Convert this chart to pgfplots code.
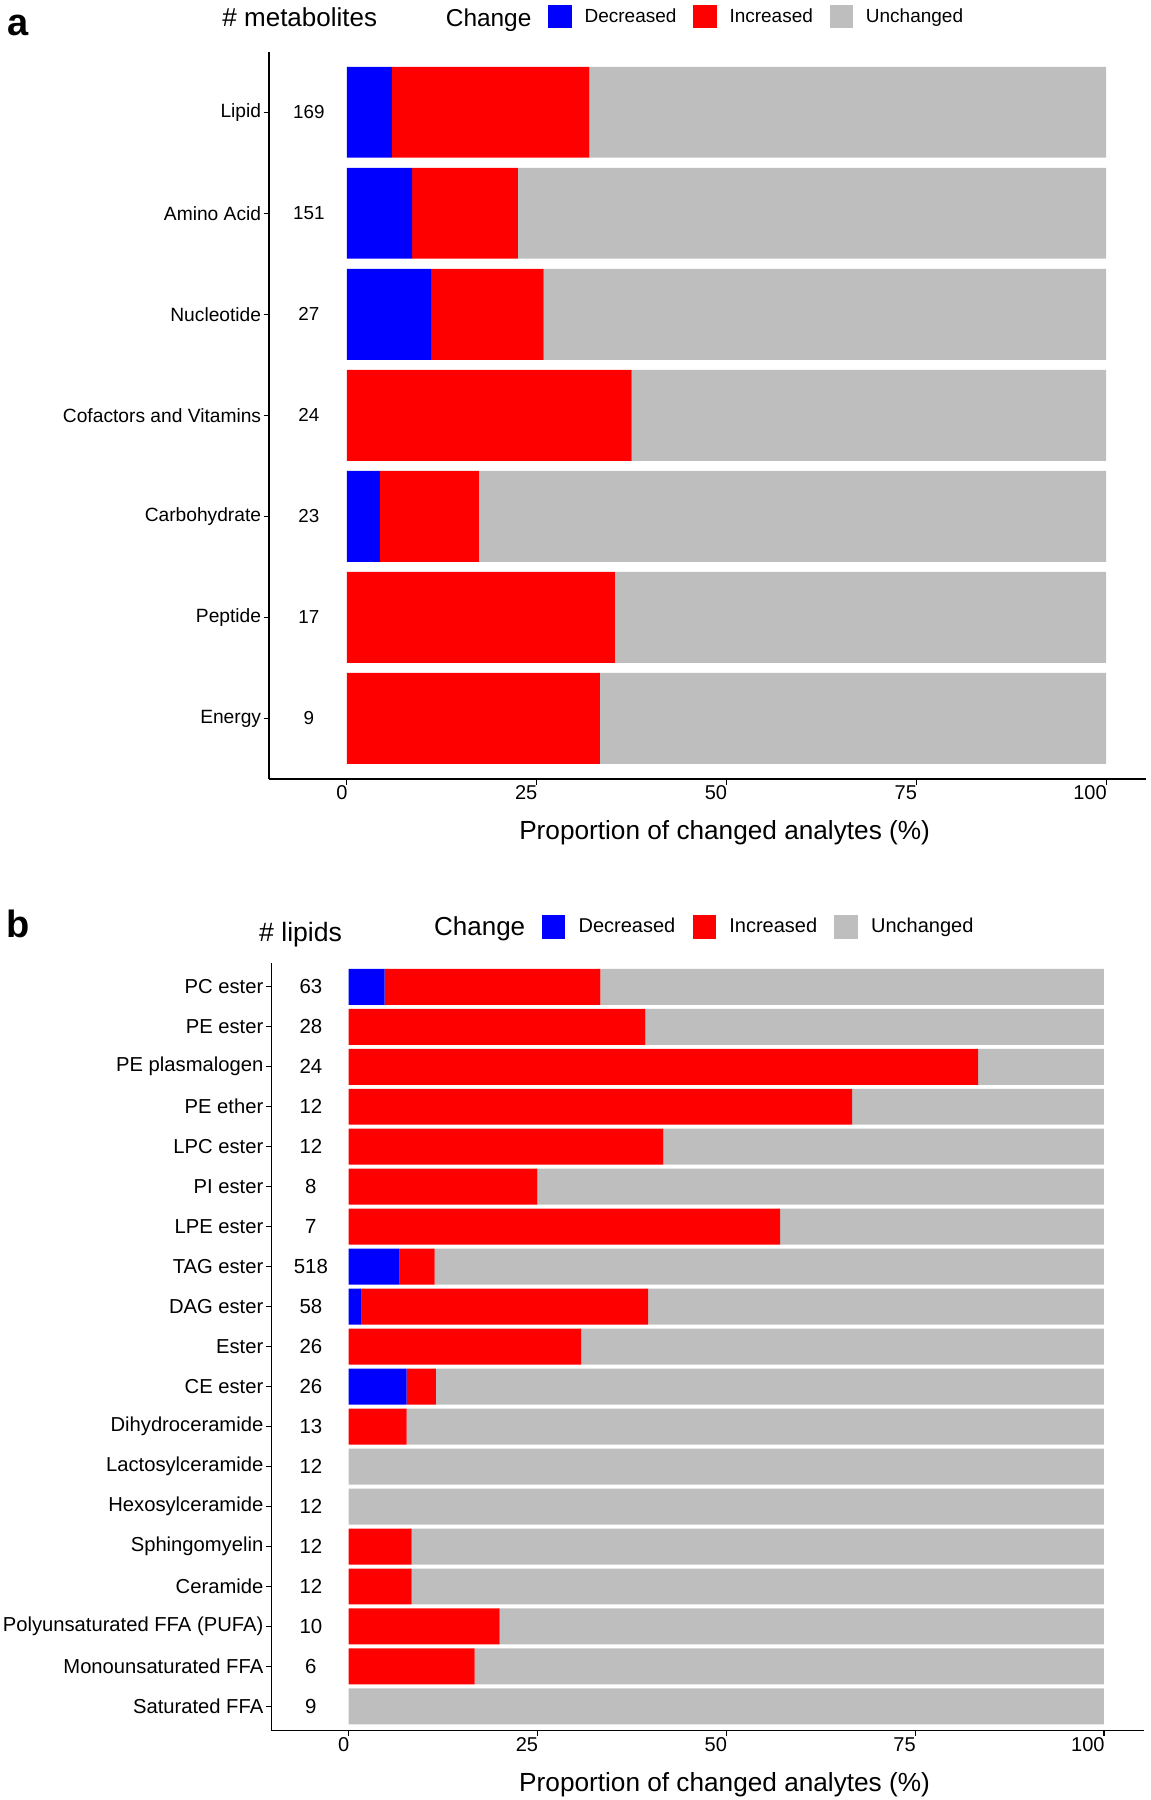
\documentclass[border=0pt]{standalone}
\usepackage{fontspec}
\setmainfont{Liberation Sans}
\usepackage{pgfplots}
\pgfplotsset{compat=1.18}
\usepackage{pgfplotstable}

\definecolor{dec}{HTML}{0000FF}
\definecolor{inc}{HTML}{FF0000}
\definecolor{unc}{HTML}{BEBEBE}

\pgfplotstableread{
y lx n dec inc unch
7 -5 169 5.917 26.036 68.047
6 -5 151 8.609 13.907 77.483
5 -5 27 11.111 14.815 74.074
4 -5 24 0 37.5 62.5
3 -5 23 4.348 13.043 82.609
2 -5 17 0 35.294 64.706
1 -5 9 0 33.333 66.667
}\tablea

\pgfplotstableread{
y lx n dec inc unch
19 -5 63 4.762 28.571 66.667
18 -5 28 0 39.286 60.714
17 -5 24 0 83.333 16.667
16 -5 12 0 66.667 33.333
15 -5 12 0 41.667 58.333
14 -5 8 0 25 75
13 -5 7 0 57.143 42.857
12 -5 518 6.757 4.633 88.610
11 -5 58 1.724 37.931 60.345
10 -5 26 0 30.769 69.231
9 -5 26 7.692 3.846 88.462
8 -5 13 0 7.692 92.308
7 -5 12 0 0 100
6 -5 12 0 0 100
5 -5 12 0 8.333 91.667
4 -5 12 0 8.333 91.667
3 -5 10 0 20 80
2 -5 6 0 16.667 83.333
1 -5 9 0 0 100
}\tableb

\pgfplotsset{
  ggbar/.style={
    scale only axis, anchor=south west,
    xbar stacked, bar width=0.9,
    xmin=-10.25, xmax=105.25,
    axis x line*=bottom, axis y line*=left,
    axis line style={-, line width=0.55pt, black},
    every tick/.style={line width=0.55pt, black},
    major tick length=2.75pt, tick align=outside,
    xtick={0,25,50,75,100}, minor tick num=0,
    /pgf/number format/assume math mode=true,
    xticklabel style={font=\fontsize{10}{12}\selectfont, inner sep=0.5pt, anchor=north east, xshift=1pt, text=black},
    yticklabel style={inner sep=1pt, text=black},
    clip=false,
  },
  ggover/.style={
    scale only axis, anchor=south west,
    xmin=-10.25, xmax=105.25, hide axis, clip=false,
    legend columns=-1,
  },
}

\begin{document}
\begin{tikzpicture}
% ---------------- panel a ----------------
\begin{axis}[ggbar,
  at={(134.5pt,-389.5pt)}, width=438.5pt, height=363.7pt,
  ymin=0.4, ymax=7.6, ytick={1,...,7},
  yticklabels={Energy,Peptide,Carbohydrate,Cofactors and Vitamins,Nucleotide,Amino Acid,Lipid},
  yticklabel style={font=\fontsize{9.6}{11}\selectfont},
  xlabel={Proportion of changed analytes (\%)},
  xlabel style={at={(axis description cs:0.5195,0)}, anchor=base, yshift=-30pt, inner sep=0pt, font=\fontsize{13.1}{15}\selectfont},
]
\addplot[fill=dec, draw=none] table[x=dec, y=y] {\tablea};
\addplot[fill=inc, draw=none] table[x=inc, y=y] {\tablea};
\addplot[fill=unc, draw=none] table[x=unch, y=y] {\tablea};
\end{axis}
\begin{axis}[ggover,
  at={(134.5pt,-389.5pt)}, width=438.5pt, height=363.7pt,
  ymin=0.4, ymax=7.6,
  legend style={at={(0.3186,1.0481)}, anchor=west, draw=none, fill=none,
    inner sep=0pt, outer sep=0pt, font=\fontsize{9.5}{11}\selectfont,
    nodes={inner sep=0pt},
    /tikz/every odd column/.append style={column sep=6.5pt},
    /tikz/every even column/.append style={column sep=8.4pt}},
]
\addplot[forget plot, draw=none, mark=none, nodes near coords, point meta=explicit symbolic,
  nodes near coords style={anchor=center, font=\fontsize{9.4}{11}\selectfont, text=black, inner sep=0pt}]
  table[x=lx, y=y, meta=n] {\tablea};
\addlegendimage{legend image code/.code={\fill[dec] (0pt,-5.6pt) rectangle (11.2pt,5.6pt);}}
\addlegendentry{Decreased}
\addlegendimage{legend image code/.code={\fill[inc] (0pt,-5.6pt) rectangle (11.2pt,5.6pt);}}
\addlegendentry{Increased}
\addlegendimage{legend image code/.code={\fill[unc] (0pt,-5.6pt) rectangle (11.2pt,5.6pt);}}
\addlegendentry{Unchanged}
\end{axis}
\node[anchor=base, inner sep=0pt, font=\bfseries\fontsize{19}{21}\selectfont] at (9.2pt,-17.5pt) {a};
\node[anchor=base, inner sep=0pt, font=\fontsize{13}{15}\selectfont] at (149.9pt,-13.35pt) {\# metabolites};
\node[anchor=base east, inner sep=0pt, font=\fontsize{12.2}{14}\selectfont] at (265.9pt,-13.35pt) {Change};

% ---------------- panel b ----------------
\begin{axis}[ggbar,
  at={(135.6pt,-865.2pt)}, width=436.2pt, height=383.8pt,
  ymin=0.4, ymax=19.6, ytick={1,...,19},
  yticklabels={Saturated FFA,Monounsaturated FFA,Polyunsaturated FFA (PUFA),Ceramide,Sphingomyelin,Hexosylceramide,Lactosylceramide,Dihydroceramide,CE ester,Ester,DAG ester,TAG ester,LPE ester,PI ester,LPC ester,PE ether,PE plasmalogen,PE ester,PC ester},
  yticklabel style={font=\fontsize{10.1}{12}\selectfont},
  xlabel={Proportion of changed analytes (\%)},
  xlabel style={at={(axis description cs:0.5197,0)}, anchor=base, yshift=-30.3pt, inner sep=0pt, font=\fontsize{13.1}{15}\selectfont},
]
\addplot[fill=dec, draw=none] table[x=dec, y=y] {\tableb};
\addplot[fill=inc, draw=none] table[x=inc, y=y] {\tableb};
\addplot[fill=unc, draw=none] table[x=unch, y=y] {\tableb};
\end{axis}
\begin{axis}[ggover,
  at={(135.6pt,-865.2pt)}, width=436.2pt, height=383.8pt,
  ymin=0.4, ymax=19.6,
  legend style={at={(0.3102,1.0469)}, anchor=west, draw=none, fill=none,
    inner sep=0pt, outer sep=0pt, font=\fontsize{10}{12}\selectfont,
    nodes={inner sep=0pt},
    /tikz/every odd column/.append style={column sep=6.8pt},
    /tikz/every even column/.append style={column sep=8.6pt}},
]
\addplot[forget plot, draw=none, mark=none, nodes near coords, point meta=explicit symbolic,
  nodes near coords style={anchor=center, font=\fontsize{10.2}{12}\selectfont, text=black, inner sep=0pt}]
  table[x=lx, y=y, meta=n] {\tableb};
\addlegendimage{legend image code/.code={\fill[dec] (0pt,-5.6pt) rectangle (11.2pt,5.6pt);}}
\addlegendentry{Decreased}
\addlegendimage{legend image code/.code={\fill[inc] (0pt,-5.6pt) rectangle (11.2pt,5.6pt);}}
\addlegendentry{Increased}
\addlegendimage{legend image code/.code={\fill[unc] (0pt,-5.6pt) rectangle (11.2pt,5.6pt);}}
\addlegendentry{Unchanged}
\end{axis}
\node[anchor=base, inner sep=0pt, font=\bfseries\fontsize{19}{21}\selectfont] at (9.2pt,-468.8pt) {b};
\node[anchor=base, inner sep=0pt, font=\fontsize{13.3}{15}\selectfont] at (150.3pt,-470.5pt) {\# lipids};
\node[anchor=base east, inner sep=0pt, font=\fontsize{13}{15}\selectfont] at (262.8pt,-467.5pt) {Change};

\pgfresetboundingbox
\path[use as bounding box] (0,0) rectangle (575.5pt,-900pt);
\end{tikzpicture}
\end{document}
